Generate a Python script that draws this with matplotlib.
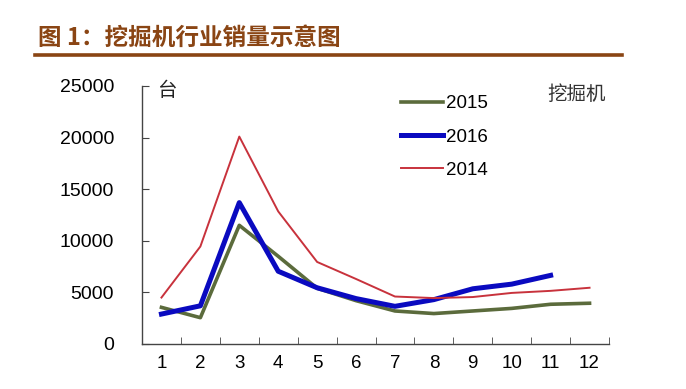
import matplotlib
matplotlib.use("Agg")
import matplotlib.pyplot as plt
from matplotlib.lines import Line2D

plt.rcParams['font.family'] = ['Liberation Sans', 'Noto Sans CJK SC', 'DejaVu Sans']

months = list(range(1, 13))
month_labels = [str(m) for m in months]
sales_2015 = [3550, 2550, 11500, 8500, 5400, 4200, 3200, 2950, 3200, 3450, 3850, 3950]
sales_2016 = [2900, 3700, 13700, 7050, 5450, 4400, 3650, 4300, 5350, 5800, 6650]
sales_2014 = [4500, 9450, 20100, 12850, 7950, 6300, 4600, 4450, 4550, 4950, 5150, 5450]
yticks = [0, 5000, 10000, 15000, 20000, 25000]

title_color = '#8a4514'

fig = plt.figure(figsize=(6.86, 3.89), dpi=100)
ax = fig.add_axes([142/686, 1-344/389, (609-142)/686, (344-86)/389])

ax.plot(months, sales_2015, color='#5b6b3c', lw=2.6, label='2015', solid_joinstyle='round')
ax.plot(months[:len(sales_2016)], sales_2016, color='#0a0ac0', lw=3.6, label='2016', solid_joinstyle='round')
ax.plot(months, sales_2014, color='#c8323c', lw=1.4, label='2014')

ax.set_xlim(0.5, 12.5)
ax.set_ylim(0, 25000)
ax.set_yticks(yticks)
ax.set_yticklabels([str(v) for v in yticks], fontsize=14)
ax.set_xticks(months)
ax.set_xticklabels(month_labels, fontsize=13.5)
ax.set_xticks([m + 0.5 for m in range(0, 13)], minor=True)
ax.tick_params(axis='x', which='major', length=0, pad=8)
ax.tick_params(axis='x', which='minor', direction='in', length=5, color='#444444')
ax.tick_params(axis='y', direction='in', length=5, color='#444444', pad=20)
for s in ['top', 'right']:
    ax.spines[s].set_visible(False)
for s in ['left', 'bottom']:
    ax.spines[s].set_color('#444444')
    ax.spines[s].set_linewidth(1.0)

fig.text(157/686, 1-90/389, '台', fontsize=14, va='center', ha='left', color='#222222',
         family=['Noto Sans CJK SC', 'DejaVu Sans'])
fig.text(606/686, 1-94/389, '挖掘机', fontsize=14, va='center', ha='right', color='#333333',
         family=['Noto Sans CJK SC', 'DejaVu Sans'])

leg = ax.legend(loc='upper left', bbox_to_anchor=((392-142)/467, 1.0), frameon=False,
                fontsize=13.5, handlelength=2.2, handletextpad=0.2, labelspacing=0.85,
                borderaxespad=0.1)

fig.text(38/686, 1-38/389, '图 1：挖掘机行业销量示意图', fontsize=17, fontweight='bold',
         color=title_color, va='center', ha='left',
         family=['Noto Sans CJK SC', 'DejaVu Sans'])
fig.add_artist(Line2D([35/686, 622/686], [1-55/389, 1-55/389], transform=fig.transFigure,
                      color=title_color, lw=2.6))

fig.savefig('out.png', dpi=100)
